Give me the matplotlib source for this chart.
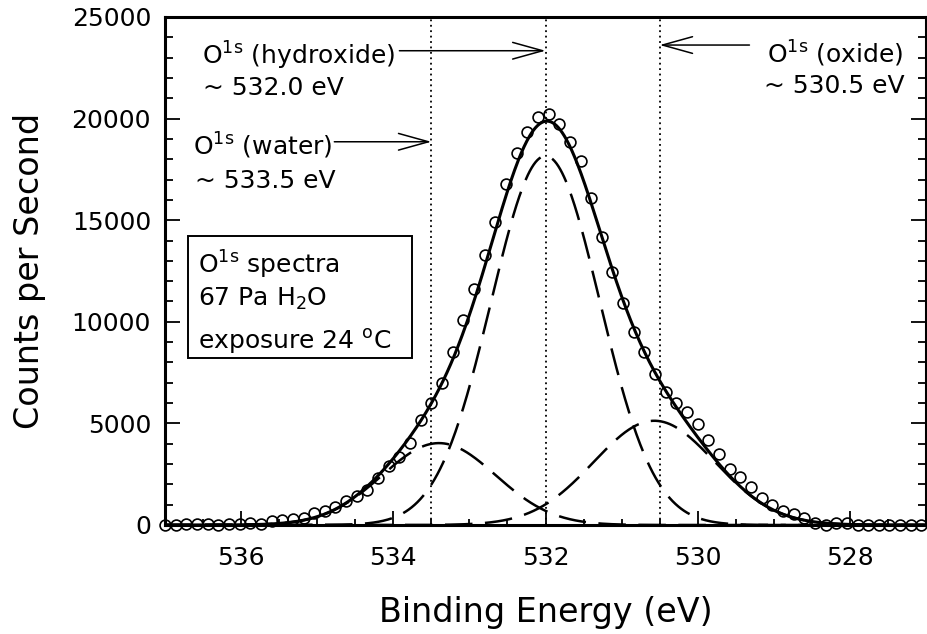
import matplotlib
matplotlib.use("Agg")
import matplotlib.pyplot as plt
import numpy as np
from matplotlib.patches import Rectangle
from matplotlib.ticker import MultipleLocator

# O 1s spectrum, 0.14 eV steps going down from 537.0 eV
start_energy = 537.0
step = 0.14
counts = [0, 0, 40, 60, 60, 20, 40, 50, 80, 30,
          180, 250, 310, 345, 575, 705, 885, 1200, 1450, 1720,
          2330, 2900, 3330, 4020, 5170, 5990, 7000, 8530, 10090, 11600,
          13280, 14900, 16780, 18320, 19350, 20060, 20220, 19730, 18860, 17910,
          16070, 14180, 12460, 10940, 9510, 8530, 7430, 6560, 6020, 5540,
          4950, 4180, 3490, 2740, 2350, 1850, 1310, 985, 700, 540,
          330, 80, 0, 115, 115, 0, 0, 0, 0, 0,
          0, 0]

# gaussian components of the fit: water, hydroxide, oxide
peak_centers = [533.40, 532.00, 530.57]
peak_heights = [4030, 18160, 5130]
peak_fwhm = [1.76, 1.68, 1.87]

# nominal binding energies marked with dotted lines
marker_energies = [533.5, 532.0, 530.5]

energy = start_energy - step * np.arange(len(counts))


def gauss(x, c, h, w):
    return h * np.exp(-4 * np.log(2) * (x - c) ** 2 / w ** 2)


plt.rcParams['font.family'] = ['DejaVu Sans']
plt.rcParams['mathtext.fontset'] = 'dejavusans'

fig = plt.figure(figsize=(9.27, 6.34), dpi=100)
ax = fig.add_axes([165 / 927, 109 / 634, 761 / 927, 508 / 634])

xs = np.linspace(537, 527, 800)
parts = [gauss(xs, c, h, w) for c, h, w in zip(peak_centers, peak_heights, peak_fwhm)]
for p in parts:
    ax.plot(xs, p, color='black', lw=1.8, dashes=(11, 5), zorder=2)
ax.plot(xs, np.sum(parts, axis=0), color='black', lw=2.2, zorder=3)

ax.plot(energy, counts, 'o', ms=7.8, mfc='none', mec='black', mew=1.2,
        clip_on=False, zorder=4)

for e in marker_energies:
    ax.axvline(e, color='black', lw=1.3, ls=(0, (1.0, 2.0)), zorder=1)

ax.set_xlim(537, 527)
ax.set_ylim(0, 25000)
ax.xaxis.set_major_locator(MultipleLocator(2))
ax.xaxis.set_minor_locator(MultipleLocator(0.5))
ax.yaxis.set_major_locator(MultipleLocator(5000))
ax.yaxis.set_minor_locator(MultipleLocator(1000))
ax.tick_params(axis='both', which='both', direction='in', width=1.3,
               top=False, right=True, labelsize=18)
ax.tick_params(axis='x', which='major', length=10, pad=15)
ax.tick_params(axis='x', which='minor', length=4.5)
ax.tick_params(axis='y', which='major', length=11, pad=10)
ax.tick_params(axis='y', which='minor', length=5.5)
for s in ax.spines.values():
    s.set_linewidth(2.2)

ax.set_xlabel('Binding Energy (eV)', fontsize=24, labelpad=19)
ax.set_ylabel('Counts per Second', fontsize=24)
ax.yaxis.set_label_coords(-0.156, 0.5)

tf = ax.transAxes
fs = 18
ax.text(0.0486, 0.9055, r'O$^{\mathrm{1s}}$ (hydroxide)', transform=tf, fontsize=fs, va='baseline')
ax.text(0.0499, 0.8465, '~ 532.0 eV', transform=tf, fontsize=fs, va='baseline')
ax.text(0.0368, 0.7283, r'O$^{\mathrm{1s}}$ (water)', transform=tf, fontsize=fs, va='baseline')
ax.text(0.0394, 0.6628, '~ 533.5 eV', transform=tf, fontsize=fs, va='baseline')
ax.text(0.9698, 0.9089, r'O$^{\mathrm{1s}}$ (oxide)', transform=tf, fontsize=fs, va='baseline', ha='right')
ax.text(0.9724, 0.8498, '~ 530.5 eV', transform=tf, fontsize=fs, va='baseline', ha='right')

# sample conditions box
ax.add_patch(Rectangle((0.0306, 0.328), 0.294, 0.241, transform=tf,
                       fill=False, lw=1.4, ec='black'))
ax.text(0.0434, 0.4955, r'O$^{\mathrm{1s}}$ spectra', transform=tf, fontsize=fs, va='baseline')
ax.text(0.0434, 0.4311, r'67 Pa H$_2$O', transform=tf, fontsize=fs, va='baseline')
ax.text(0.0434, 0.3478, r'exposure 24 $^{\mathrm{o}}$C', transform=tf, fontsize=fs, va='baseline')

arrow = dict(arrowstyle='->,head_length=1.08,head_width=0.3', color='black',
             lw=1.1, shrinkA=0, shrinkB=0, mutation_scale=20)
ax.annotate('', xy=(marker_energies[1], 23340), xytext=(533.92, 23340), arrowprops=arrow)
ax.annotate('', xy=(marker_energies[0], 18860), xytext=(534.775, 18860), arrowprops=arrow)
ax.annotate('', xy=(marker_energies[2], 23620), xytext=(529.32, 23620), arrowprops=arrow)

fig.savefig('out.png', dpi=100)
